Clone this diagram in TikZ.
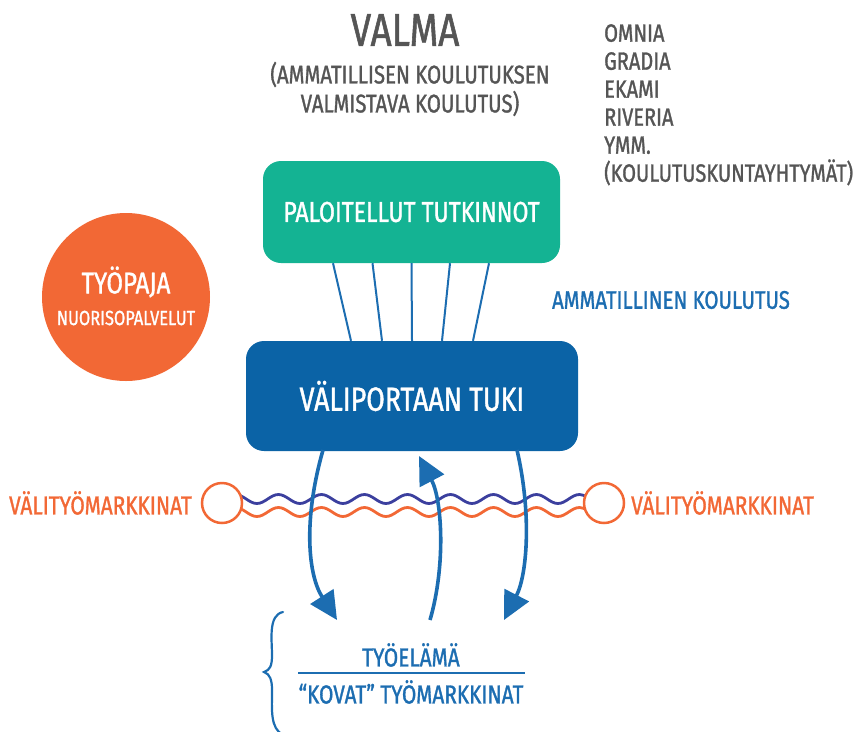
\documentclass[tikz,border=0pt]{standalone}
\usepackage{fontspec}
\setmainfont{Fira Sans}[FakeStretch=0.8,FakeBold=1.2]
\usetikzlibrary{arrows.meta,decorations.pathmorphing}
\definecolor{tgray}{HTML}{555555}
\definecolor{tblue}{HTML}{1C6DB1}
\definecolor{boxblue}{HTML}{0B63A6}
\definecolor{tgreen}{HTML}{14B393}
\definecolor{torange}{HTML}{F26835}
\definecolor{tindigo}{HTML}{3B3F9E}
\tikzset{
  txt/.style={inner sep=0pt, anchor=center},
  roundbox/.style={rounded corners=18pt, inner sep=0pt, text=white},
  link/.style={draw=tblue, line width=2pt},
  flow/.style={draw=tblue, line width=3.6pt, -{Triangle[length=28pt,width=27pt]}},
  wave/.style={line width=2.8pt, decorate, decoration={snake, amplitude=4.5pt, segment length=43pt}},
  ring/.style={circle, draw=torange, line width=2.5pt, fill=white, minimum size=40pt, inner sep=0pt},
}
\begin{document}
\begin{tikzpicture}[x=1pt,y=-1pt]
\useasboundingbox (0,0) rectangle (858,731);
% titles
\node[txt, text=tgray, font=\fontsize{46}{48}\selectfont] (valma) at (405,30) {VALMA};
\node[txt, text=tgray, font=\fontsize{25.5}{29}\selectfont, align=center] (valmasub) at (410,89) {(AMMATILLISEN KOULUTUKSEN\\VALMISTAVA KOULUTUS)};
\node[inner sep=0pt, anchor=north west, text=tgray, font=\fontsize{25}{28}\selectfont, align=left] (list) at (604,24) {OMNIA\\GRADIA\\EKAMI\\RIVERIA\\YMM.\\(KOULUTUSKUNTAYHTYMÄT)};
% boxes
\node[roundbox, fill=tgreen, minimum width=297pt, minimum height=102pt, font=\fontsize{28.8}{30}\selectfont] (green) at (411.5,212) {PALOITELLUT TUTKINNOT};
\node[roundbox, fill=boxblue, minimum width=332pt, minimum height=110pt, font=\fontsize{33.5}{35}\selectfont] (blue) at (412,396) {VÄLIPORTAAN TUKI};
\node[txt, text=tblue, font=\fontsize{25.4}{27}\selectfont] (amm) at (671,300) {AMMATILLINEN KOULUTUS};
% links
\foreach \a/\b in {333/351, 372.5/382, 411.5/412, 450/442, 489/473}{
  \draw[link] (green.south -| \a,0) -- (blue.north -| \b,0);
}
% orange circle
\node[circle, fill=torange, minimum size=168pt, inner sep=0pt] (tyopaja) at (126,297) {};
\node[txt, text=white, font=\fontsize{30}{32}\selectfont] (tp1) at (126,282) {TYÖPAJA};
\node[txt, text=white, font=\fontsize{20.5}{22}\selectfont] (tp2) at (126,318) {NUORISOPALVELUT};
% waves
\coordinate (wl) at (222,503);
\coordinate (wr) at (604,503);
\draw[wave, draw=tindigo] ([yshift=4pt]wl) -- ([yshift=4pt]wr);
\draw[wave, draw=torange] ([yshift=-9pt]wl) -- ([yshift=-9pt]wr);
\node[ring] (rl) at (wl) {};
\node[ring] (rr) at (wr) {};
\node[txt, text=torange, font=\fontsize{26}{28}\selectfont, anchor=east] (vl) at (192,503) {VÄLITYÖMARKKINAT};
\node[txt, text=torange, font=\fontsize{26}{28}\selectfont, anchor=west] (vr) at (631,503) {VÄLITYÖMARKKINAT};
% bottom
\node[txt, text=tblue, font=\fontsize{26}{28}\selectfont] (tyoelama) at (411,655) {TYÖELÄMÄ};
\node[txt, text=tblue, font=\fontsize{26}{28}\selectfont] (kovat) at (411,692) {“KOVAT” TYÖMARKKINAT};
\coordinate (ll) at (298,673);
\coordinate (lr) at (525,673);
\draw[tblue, line width=2.2pt] (ll) -- (lr);
% arrows
\coordinate (a1s) at (323,450);
\coordinate (a1e) at (337,620);
\coordinate (a2s) at (430,620);
\coordinate (a2e) at (419,456);
\coordinate (a3s) at (517,450);
\coordinate (a3e) at (504,620);
\draw[flow] (a1s) .. controls (303,520) and (308,575) .. (a1e);
\draw[flow] (a2s) .. controls (446,565) and (442,500) .. (a2e);
\draw[flow] (a3s) .. controls (532,515) and (527,575) .. (a3e);
% brace
\coordinate (bt) at (283,612);
\coordinate (bm) at (264,672);
\coordinate (bb) at (283,735);
\draw[tblue, line width=2.2pt, line cap=round] (bt) .. controls (268,615) and (272,640) .. (272,655) .. controls (272,666) and (270,670) .. (bm) .. controls (270,674) and (272,680) .. (272,690) .. controls (272,710) and (270,728) .. (bb);
\end{tikzpicture}
\end{document}
